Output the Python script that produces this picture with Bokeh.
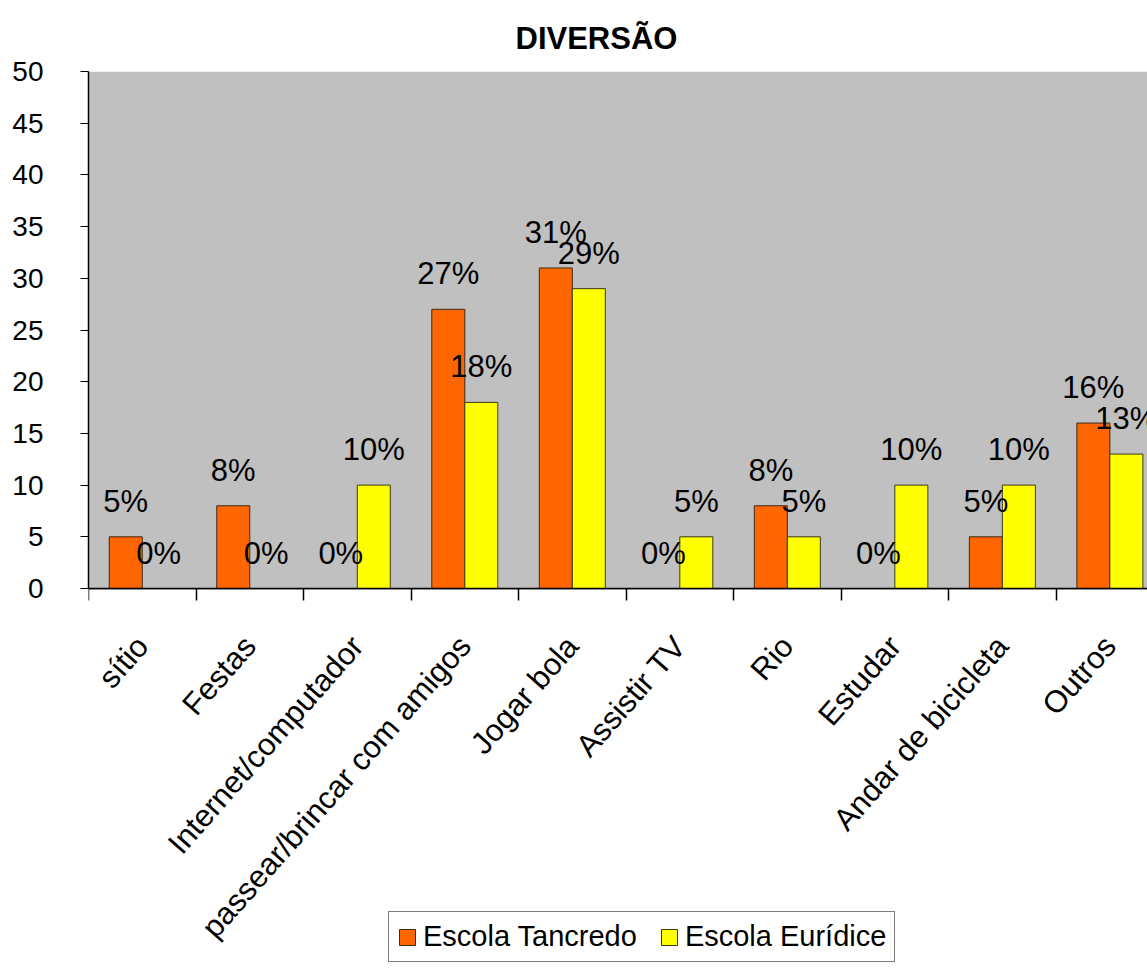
import math
from bokeh.plotting import figure
from bokeh.models import ColumnDataSource, FixedTicker, Legend, LegendItem, Title, BoxAnnotation
from bokeh.core.properties import value
from bokeh.embed import file_html
from bokeh.resources import INLINE

categories = ["sítio", "Festas", "Internet/computador", "passear/brincar com amigos",
              "Jogar bola", "Assistir TV", "Rio", "Estudar", "Andar de bicicleta", "Outros"]
tancredo = [5, 8, 0, 27, 31, 0, 8, 0, 5, 16]
euridice = [0, 0, 10, 18, 29, 5, 5, 10, 10, 13]
y_ticks = [0, 5, 10, 15, 20, 25, 30, 35, 40, 45, 50]
series_names = ["Escola Tancredo", "Escola Eurídice"]

FONT = "Liberation Sans"
BW = 0.307

centers = [i + 0.5 for i in range(len(categories))]
x_t = [c - BW / 2 for c in centers]
x_e = [c + BW / 2 for c in centers]

src_t = ColumnDataSource(dict(x=x_t, top=tancredo, lab=[f"{v}%" for v in tancredo]))
src_e = ColumnDataSource(dict(x=x_e, top=euridice, lab=[f"{v}%" for v in euridice]))

# frame spans from y=71 (value 50) to the page bottom; value 0 sits at y=588
Y_MAX = 50
PX_PER_UNIT = (588 - 71) / Y_MAX
Y_MIN = -(971 - 588) / PX_PER_UNIT

p = figure(width=1147, height=971, output_backend="svg", toolbar_location=None,
           x_range=(0, 9.85), y_range=(Y_MIN, Y_MAX),
           min_border_left=88, min_border_right=0, min_border_top=71, min_border_bottom=0)
p.title = None
t = Title(text="DIVERSÃO", text_font=FONT, text_font_size="31px", text_font_style="bold",
          align="left", offset=427, text_color="black", standoff=32)
p.add_layout(t, "above")

p.background_fill_color = "white"
p.border_fill_color = "white"
p.outline_line_color = None
p.add_layout(BoxAnnotation(bottom=0, top=Y_MAX, fill_color="#C0C0C0", fill_alpha=1,
                           line_color=None, level="underlay"))

r1 = p.vbar(x="x", top="top", width=BW, source=src_t, fill_color="#FF6600",
            line_color="#3a2a1a", line_width=1)
r2 = p.vbar(x="x", top="top", width=BW, source=src_e, fill_color="#FFFF00",
            line_color="#3a3a1a", line_width=1)

for src in (src_t, src_e):
    p.text(x="x", y="top", text="lab", source=src, text_font=value(FONT),
           text_font_size="31px", text_align="center", text_baseline="bottom",
           y_offset=-18, text_color="black")

# axes
p.xgrid.visible = False
p.ygrid.grid_line_color = "black"
p.ygrid.grid_line_width = 1.5
p.ygrid.ticker = FixedTicker(ticks=y_ticks)
p.yaxis.ticker = FixedTicker(ticks=y_ticks)
p.yaxis.bounds = (0, Y_MAX)
p.yaxis.axis_line_color = "black"
p.yaxis.axis_line_width = 1.5
p.yaxis.major_tick_out = 8
p.yaxis.major_tick_in = 0
p.yaxis.minor_tick_out = 0
p.yaxis.minor_tick_in = 0
p.yaxis.major_label_standoff = 37
p.yaxis.major_label_text_font = FONT
p.yaxis.major_label_text_font_size = "28px"
p.yaxis.major_label_text_color = "black"

p.xaxis.fixed_location = 0
p.xaxis.ticker = FixedTicker(ticks=centers, minor_ticks=list(range(0, 11)))
p.xaxis.major_label_overrides = {c: name for c, name in zip(centers, categories)}
p.xaxis.major_tick_out = 0
p.xaxis.major_tick_in = 0
p.xaxis.minor_tick_out = 12
p.xaxis.minor_tick_in = 0
p.xaxis.minor_tick_line_color = "black"
p.xaxis.minor_tick_line_width = 1.5
p.xaxis.axis_line_color = "black"
p.xaxis.axis_line_width = 1.5
p.xaxis.major_label_orientation = 0.85
p.xaxis.major_label_standoff = 40
p.xaxis.major_label_text_font = FONT
p.xaxis.major_label_text_font_size = "31px"
p.xaxis.major_label_text_color = "black"

legend = Legend(items=[LegendItem(label=series_names[0], renderers=[r1]),
                       LegendItem(label=series_names[1], renderers=[r2])],
                location=(300, 9), orientation="horizontal",
                label_text_font=FONT, label_text_font_size="29px", label_text_color="black",
                border_line_color="black", border_line_width=1.5,
                background_fill_color="white", background_fill_alpha=1,
                glyph_width=20, glyph_height=20, spacing=22,
                padding=8, margin=0, label_standoff=6)
p.add_layout(legend, "center")

open("out.html", "w").write(file_html(p, INLINE))
